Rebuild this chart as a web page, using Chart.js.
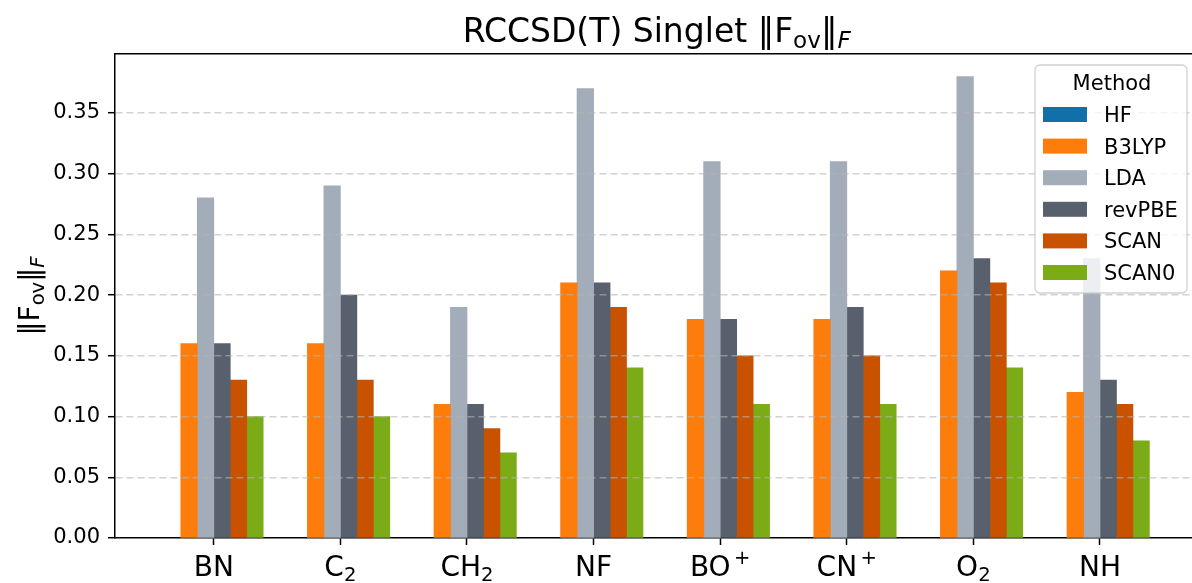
<!DOCTYPE html>
<html>
<head>
<meta charset="utf-8">
<script src="https://cdn.jsdelivr.net/npm/chart.js@4/dist/chart.umd.min.js"></script>
<style>
  html, body { margin: 0; padding: 0; background: #fff; overflow: hidden; }
  canvas { display: block; }
</style>
</head>
<body>
<canvas id="chart" width="1192" height="583"></canvas>
<script>
// molecules on the x axis, '_' = subscript, '^' = superscript
const categories = ['BN', 'C_2', 'CH_2', 'NF', 'BO^+', 'CN^+', 'O_2', 'NH']
const methods = ['HF', 'B3LYP', 'LDA', 'revPBE', 'SCAN', 'SCAN0']
const colors = ['#1170aa', '#fc7d0b', '#a3acb9', '#57606c', '#c85200', '#7cab18']

const hfValues = [0, 0, 0, 0, 0, 0, 0, 0]
const b3lypValues = [0.16, 0.16, 0.11, 0.21, 0.18, 0.18, 0.22, 0.12]
const ldaValues = [0.28, 0.29, 0.19, 0.37, 0.31, 0.31, 0.38, 0.23]
const revpbeValues = [0.16, 0.2, 0.11, 0.21, 0.18, 0.19, 0.23, 0.13]
const scanValues = [0.13, 0.13, 0.09, 0.19, 0.15, 0.15, 0.21, 0.11]
const scan0Values = [0.1, 0.1, 0.07, 0.14, 0.11, 0.11, 0.14, 0.08]

const yTicks = [0, 0.05, 0.1, 0.15, 0.2, 0.25, 0.3, 0.35]

const seriesValues = [hfValues, b3lypValues, ldaValues, revpbeValues, scanValues, scan0Values]

// ‖F_ov‖_F as text segments
const normText = [
  { t: '‖F', kind: 'n' },
  { t: 'ov', kind: 'sub' },
  { t: '‖', kind: 'n' },
  { t: 'F', kind: 'subit' }
]
const titleText = [{ t: 'RCCSD(T) Singlet ', kind: 'n' }, ...normText]

const FONT = '"DejaVu Sans", "Noto Sans", sans-serif'
const X_MIN = -0.78
const X_MAX = 7.727

function parseLabel(s) {
  const m = s.match(/^([^_^]*)([_^])(.*)$/)
  if (!m) return [{ t: s, kind: 'n' }]
  return [{ t: m[1], kind: 'n' }, { t: m[3], kind: m[2] === '_' ? 'sub' : 'sup' }]
}

function segFont(kind, size) {
  const s = kind === 'n' ? size : size * 0.7
  return (kind === 'subit' ? 'italic ' : '') + s + 'px ' + FONT
}

function segShift(kind, size) {
  if (kind === 'sub' || kind === 'subit') return size * 0.17
  if (kind === 'sup') return -size * 0.43
  return 0
}

function segGap(kind, size) {
  return kind === 'sup' ? size * 0.12 : 0
}

function richWidth(ctx, segs, size) {
  let w = 0
  for (const s of segs) {
    ctx.font = segFont(s.kind, size)
    w += ctx.measureText(s.t).width + segGap(s.kind, size)
  }
  return w
}

// draws mixed-size text centered on x, with baseline at y
function drawRich(ctx, segs, x, y, size) {
  ctx.save()
  ctx.textAlign = 'left'
  ctx.textBaseline = 'alphabetic'
  ctx.fillStyle = '#000'
  let cx = x - richWidth(ctx, segs, size) / 2
  for (const s of segs) {
    ctx.font = segFont(s.kind, size)
    cx += segGap(s.kind, size)
    ctx.fillText(s.t, cx, y + segShift(s.kind, size))
    cx += ctx.measureText(s.t).width
  }
  ctx.restore()
}

const textPlugin = {
  id: 'textPlugin',
  afterDraw(chart) {
    const ctx = chart.ctx
    const area = chart.chartArea
    const xs = chart.scales.x

    // title over the middle of the axis
    drawRich(ctx, titleText, xs.getPixelForValue((X_MIN + X_MAX + 0.05) / 2), 42, 33)

    // y axis label, rotated
    ctx.save()
    ctx.translate(39, (area.top + area.bottom) / 2)
    ctx.rotate(-Math.PI / 2)
    drawRich(ctx, normText, 0, 0, 28)
    ctx.restore()

    // category labels under the ticks
    categories.forEach((c, i) => {
      drawRich(ctx, parseLabel(c), xs.getPixelForValue(i), area.bottom + 38, 28)
    })

    // legend box
    const lx = area.right - 157
    const ly = area.top + 11
    const lw = 152
    const lh = 228
    ctx.save()
    ctx.beginPath()
    ctx.roundRect(lx, ly, lw, lh, 5)
    ctx.fillStyle = 'rgba(255,255,255,0.8)'
    ctx.fill()
    ctx.strokeStyle = 'rgba(204,204,204,0.9)'
    ctx.lineWidth = 1.3
    ctx.stroke()
    ctx.fillStyle = '#000'
    ctx.font = '21px ' + FONT
    ctx.textAlign = 'center'
    ctx.textBaseline = 'alphabetic'
    ctx.fillText('Method', lx + 77, ly + 25)
    ctx.textAlign = 'left'
    chart.data.datasets.forEach((ds, k) => {
      const cy = ly + 49.5 + k * 31.6
      ctx.fillStyle = ds.backgroundColor
      ctx.fillRect(lx + 8, cy - 7.5, 44, 15)
      ctx.fillStyle = '#000'
      ctx.fillText(ds.label, lx + 69, cy + 7.5)
    })
    ctx.restore()
  }
}

function drawBars(ele) {
  const datasets = methods.map((m, k) => {
    return {
      label: m,
      data: seriesValues[k].map((v, i) => ({ x: i, y: v })),
      backgroundColor: colors[k],
      borderWidth: 0,
      // close the seams between neighbours, but keep zero bars invisible
      inflateAmount: c => (c.raw && c.raw.y === 0 ? 0 : 0.4),
      categoryPercentage: 0.78,
      barPercentage: 1
    }
  })

  const config = {
    type: 'bar',
    data: { datasets: datasets },
    options: {
      responsive: false,
      animation: false,
      layout: { padding: { top: 54, left: 0, right: 0, bottom: 0 } },
      plugins: {
        legend: { display: false },
        title: { display: false },
        tooltip: { enabled: false }
      },
      scales: {
        x: {
          type: 'linear',
          position: 'bottom',
          offset: false,
          min: X_MIN,
          max: X_MAX,
          afterBuildTicks: axis => {
            axis.ticks = categories.map((c, i) => ({ value: i }))
          },
          afterFit: axis => {
            axis.height = 45
          },
          ticks: { display: false },
          grid: {
            display: true,
            offset: false,
            drawOnChartArea: false,
            drawTicks: true,
            tickLength: 7,
            tickColor: '#000',
            tickWidth: 1.5
          },
          border: { display: true, color: '#000', width: 1.5 }
        },
        xTop: {
          type: 'linear',
          position: 'top',
          offset: false,
          min: X_MIN,
          max: X_MAX,
          afterFit: axis => {
            axis.height = 0
          },
          ticks: { display: false },
          grid: { display: false, drawTicks: false },
          border: { display: true, color: '#000', width: 1.5 }
        },
        y: {
          type: 'linear',
          min: 0,
          max: 0.3986,
          afterBuildTicks: axis => {
            axis.ticks = yTicks.map(v => ({ value: v }))
          },
          afterFit: axis => {
            axis.width = 115
          },
          ticks: {
            callback: v => v.toFixed(2),
            color: '#000',
            padding: 8,
            font: { family: FONT, size: 21 }
          },
          // grid sits over the bars, border after the grid
          grid: {
            z: 1,
            color: c => (c.tick && c.tick.value === 0 ? 'rgba(0,0,0,0)' : 'rgba(180,180,180,0.6)'),
            lineWidth: 1.4,
            tickLength: 7,
            tickColor: '#000',
            tickWidth: 1.5
          },
          border: { display: true, z: 2, color: '#000', width: 1.5, dash: [7, 4] }
        }
      }
    },
    plugins: [textPlugin]
  }

  const ctx = ele.getContext('2d')
  return new Chart(ctx, config)
}

drawBars(document.getElementById('chart'))
</script>
</body>
</html>
